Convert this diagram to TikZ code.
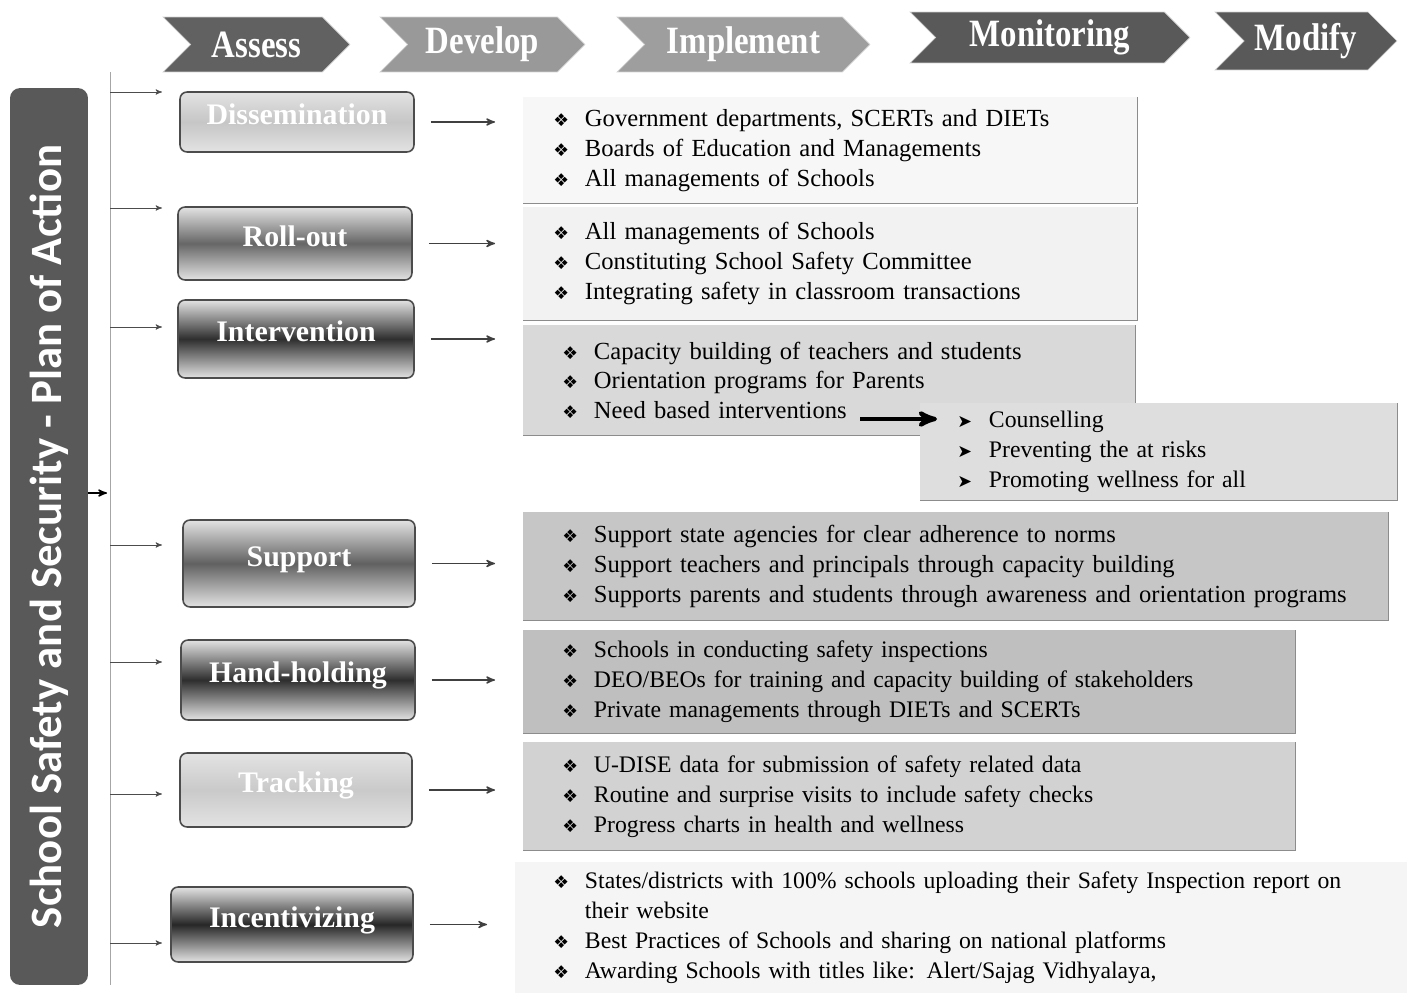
\documentclass[tikz,border=0pt]{standalone}
\usepackage{fontspec}
\setmainfont{Liberation Serif}
\newfontfamily\titlefont{Carlito}
\newfontfamily\symfont{DejaVu Sans}
\newfontfamily\headfont[FakeStretch=0.85]{Liberation Serif}
\usetikzlibrary{arrows}
\usetikzlibrary{calc}
\usetikzlibrary{shapes.symbols}

\newcommand{\bul}{\makebox[18pt][l]{\symfont\normalsize ❖}}
\newcommand{\sbul}{\makebox[18pt][l]{\symfont\normalsize ➤}}

\begin{document}
\begin{tikzpicture}[x=0.02cm, y=-0.02cm, >=stealth',
    phase/.style={signal, signal from=west, signal to=east, fill=#1,
      draw=gray!35, text=white, inner sep=0pt,
      font=\headfont\bfseries\fontsize{22}{24}\selectfont},
    stagebox/.style={draw=black!70, line width=0.9pt, rounded corners=0.14cm,
      top color=gray!22, bottom color=gray!22, middle color=#1, text=white,
      inner sep=0pt, text height=12pt, text depth=9pt,
      font=\bfseries\fontsize{17}{20}\selectfont},
    listbox/.style={fill=#1, anchor=north west, align=left, inner ysep=0pt,
      font=\fontsize{13.5}{17}\selectfont},
    listedge/.style={black!45, line width=0.8pt}]
  \useasboundingbox (0,0) rectangle (1407,993);

  % phases on top
  \node[phase=black!62, minimum width=3.74cm, minimum height=1.1cm] (assess)
       at (256.5,44.5) {Assess};
  \node[phase=black!40, minimum width=4.1cm, minimum height=1.1cm] (develop)
       at (482.5,44.5) {Develop};
  \node[phase=black!38, minimum width=5.06cm, minimum height=1.1cm] (implement)
       at (743.5,44.5) {Implement};
  \node[phase=black!65, minimum width=5.6cm, minimum height=1.02cm] (monitoring)
       at (1050,37.5) {Monitoring};
  \node[phase=black!65, minimum width=3.64cm, minimum height=1.16cm] (modify)
       at (1306,41) {Modify};

  % title bar and spine
  \node[rotate=90, fill=black!65, rounded corners=0.2cm, minimum width=17.94cm,
        minimum height=1.56cm, text=white,
        font=\titlefont\bfseries\fontsize{25.5}{28}\selectfont] (plan)
       at (49,536.5) {School Safety and Security - Plan of Action};
  \coordinate (spine-top) at (110,72);
  \coordinate (spine-bot) at (110,985);
  \coordinate (spine-in) at (107,493);
  \draw[gray!70] (spine-top) -- (spine-bot);
  \draw[->, thick] (plan.south |- spine-in) -- (spine-in);

  \foreach \y [count=\i] in {92,208,327,545,662,794,943} {
    \coordinate (from\i) at (110,\y);
    \coordinate (to\i) at (162,\y);
    \draw[->, gray!60!black] (from\i) -- (to\i);
  }

  % stages
  \node[stagebox=gray!45, minimum width=4.68cm, minimum height=1.2cm] (dissem)
       at (297,122) {Dissemination};
  \node[stagebox=black!60, minimum width=4.68cm, minimum height=1.46cm] (rollout)
       at (295,243.5) {Roll-out};
  \node[stagebox=black!82, minimum width=4.72cm, minimum height=1.56cm] (interv)
       at (296,339) {Intervention};
  \node[stagebox=black!62, minimum width=4.64cm, minimum height=1.74cm] (support)
       at (299,563.5) {Support};
  \node[stagebox=black!82, minimum width=4.68cm, minimum height=1.6cm] (handhold)
       at (298,680) {Hand-holding};
  \node[stagebox=gray!42, minimum width=4.64cm, minimum height=1.48cm] (tracking)
       at (296,790) {Tracking};
  \node[stagebox=black!85, minimum width=4.84cm, minimum height=1.5cm] (incent)
       at (292,924.5) {Incentivizing};

  % lists
  \node[listbox=gray!6, inner xsep=0.6cm, text width=11.08cm,
        minimum height=2.12cm, font=\fontsize{14}{17}\selectfont]
       (dissem-list) at (523,97)
       {\bul Government departments, SCERTs and DIETs\\
        \bul Boards of Education and Managements\\
        \bul All managements of Schools};
  \node[listbox=gray!10, inner xsep=0.6cm, text width=11.08cm,
        minimum height=2.26cm, font=\fontsize{14}{17}\selectfont]
       (rollout-list) at (523,207)
       {\bul All managements of Schools\\
        \bul Constituting School Safety Committee\\
        \bul Integrating safety in classroom transactions};
  \node[listbox=gray!30, inner xsep=0.78cm, text width=10.68cm,
        minimum height=2.2cm, font=\fontsize{14}{17}\selectfont]
       (interv-list) at (523,325)
       {\bul Capacity building of teachers and students\\
        \bul Orientation programs for Parents\\
        \bul Need based interventions};
  \foreach \p in {dissem-list, rollout-list, interv-list}
    \draw[listedge] (\p.south west) -- (\p.south east) -- (\p.north east);

  \node[listbox=gray!26, inner xsep=0.74cm, text width=8.06cm,
        minimum height=1.94cm] (need-list) at (920,403)
       {\sbul Counselling\\
        \sbul Preventing the at risks\\
        \sbul Promoting wellness for all};
  \node[listbox=gray!45, inner xsep=0.78cm, text width=15.74cm,
        minimum height=2.16cm, font=\fontsize{14}{17}\selectfont]
       (support-list) at (523,512)
       {\bul Support state agencies for clear adherence to norms\\
        \bul Support teachers and principals through capacity building\\
        \bul Supports parents and students through awareness and orientation programs};
  \node[listbox=gray!50, inner xsep=0.78cm, text width=13.88cm,
        minimum height=2.06cm] (handhold-list) at (523,630)
       {\bul Schools in conducting safety inspections\\
        \bul DEO/BEOs for training and capacity building of stakeholders\\
        \bul Private managements through DIETs and SCERTs};
  \node[listbox=gray!35, inner xsep=0.78cm, text width=13.88cm,
        minimum height=2.16cm] (tracking-list) at (523,742)
       {\bul U-DISE data for submission of safety related data\\
        \bul Routine and surprise visits to include safety checks\\
        \bul Progress charts in health and wellness};
  \node[listbox=gray!8, inner xsep=0.76cm, text width=16.32cm,
        minimum height=2.62cm] (incent-list) at (515,862)
       {\bul States/districts with 100\% schools uploading their Safety Inspection report on\\
        \hspace*{18pt}their website\\
        \bul Best Practices of Schools and sharing on national platforms\\
        \bul Awarding Schools with titles like: Alert/Sajag Vidhyalaya,};

  \foreach \p in {need-list, support-list, handhold-list, tracking-list,
                  incent-list}
    \draw[listedge] (\p.south west) -- (\p.south east) -- (\p.north east);

  \coordinate (need) at (860,419);
  \draw[->, line width=2.4pt] (need) -- ($(need -| need-list.west)+(17,0)$);

  \foreach \s in {dissem, rollout, interv, support, handhold, tracking, incent}
    \draw[->, thick, black!75, shorten <=0.32cm, shorten >=0.56cm]
         (\s.east) -- (\s.east -| \s-list.west);
\end{tikzpicture}
\end{document}
